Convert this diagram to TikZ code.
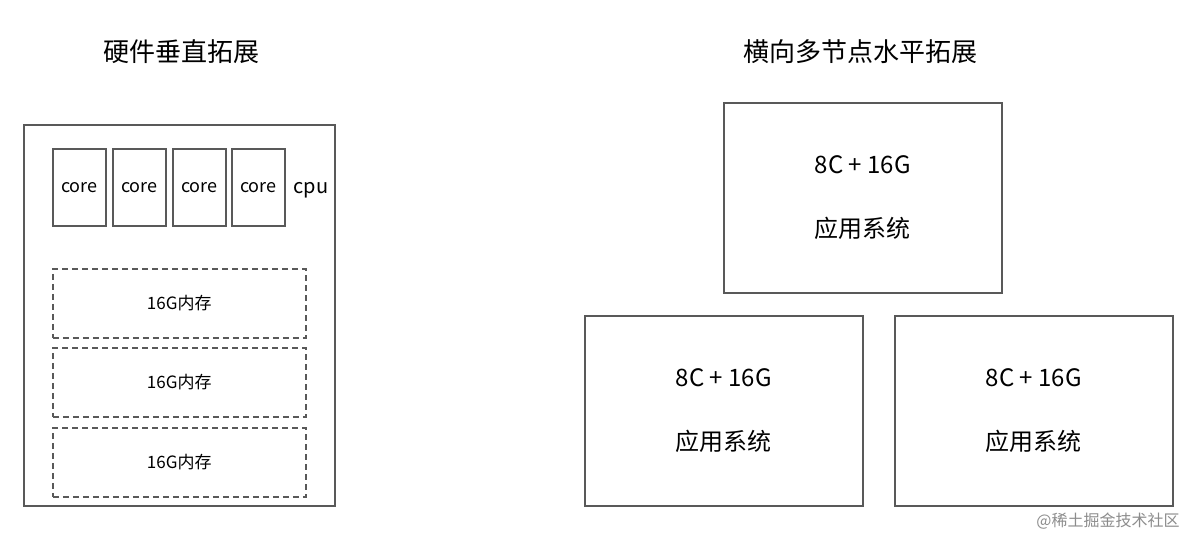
\documentclass[tikz,border=0pt]{standalone}
\usepackage{fontspec}
\setmainfont{Noto Sans CJK SC}
\begin{document}
\begin{tikzpicture}[x=1pt,y=-1pt,
  box/.style={draw=black!65,line width=1.5pt},
  core/.style={box,minimum width=53pt,minimum height=77pt,anchor=north west,inner sep=0pt,font=\fontsize{18}{20}\selectfont},
  mem/.style={draw=black!65,line width=1.5pt,dashed,dash pattern=on 6pt off 4pt,minimum width=253pt,minimum height=69pt,anchor=north west,inner sep=0pt,font=\fontsize{17}{20}\selectfont},
  sys/.style={box,minimum width=278pt,minimum height=190pt,anchor=north west,inner sep=0pt,align=center,font=\fontsize{24}{64}\selectfont},
  ttl/.style={font=\fontsize{26}{30}\selectfont}]
\useasboundingbox (0,0) rectangle (1204,546);
\node[ttl] (t1) at (181,52) {硬件垂直拓展};
\node[ttl] (t2) at (860,52) {横向多节点水平拓展};
\node[box,minimum width=311pt,minimum height=381pt,anchor=north west,inner sep=0pt] (outer) at (23,124) {};
\node[core] (c1) at (52,148) {core};
\node[core] (c2) at (112,148) {core};
\node[core] (c3) at (172,148) {core};
\node[core] (c4) at (231,148) {core};
\node[font=\fontsize{20}{22}\selectfont] (cpu) at (311,190) {cpu};
\node[mem] (m1) at (52,268) {16G内存};
\node[mem] (m2) at (52,347) {16G内存};
\node[mem] (m3) at (52,427) {16G内存};
\node[sys] (s1) at (723,102) {8C + 16G\\应用系统};
\node[sys] (s2) at (584,315) {8C + 16G\\应用系统};
\node[sys] (s3) at (894,315) {8C + 16G\\应用系统};
\node[text=black!45,font=\fontsize{16}{18}\selectfont] (wm) at (1108,521) {@稀土掘金技术社区};
\end{tikzpicture}
\end{document}
